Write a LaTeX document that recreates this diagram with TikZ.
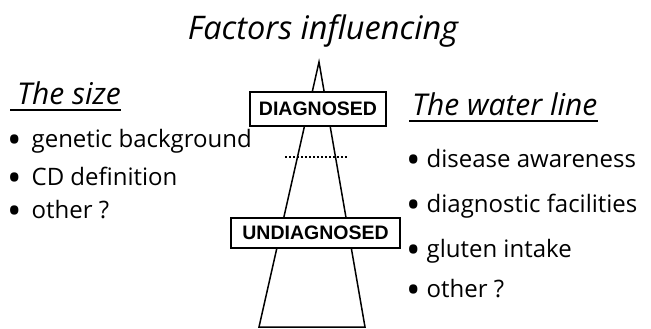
\documentclass[tikz,border=0pt]{standalone}
\usepackage{fontspec}
\setmainfont{Open Sans}
\newfontfamily\boxfont{Liberation Sans}
\newcommand\itemdot[1][6pt]{\smash{\raisebox{-6pt}{\scalebox{1.6}{\textbullet}}}\hspace{#1}}
\tikzset{
  titletext/.style={anchor=base, inner sep=0pt, font=\fontsize{32.5}{38}\selectfont\itshape},
  headtext/.style={anchor=base west, inner sep=0pt, font=\fontsize{30}{36}\selectfont\itshape},
  itemtext/.style={anchor=base west, inner sep=0pt, font=\fontsize{24}{28}\selectfont},
  levelbox/.style={draw, line width=1.6pt, fill=white, inner xsep=3pt,
    font=\boxfont\bfseries\fontsize{19.5}{22}\selectfont},
  edge/.style={line width=1.5pt},
  headline/.style={line width=1.4pt},
}
\begin{document}
\begin{tikzpicture}[x=1pt, y=-1pt]
  \useasboundingbox (0,0) rectangle (651,329);
  % pyramid
  \coordinate (apex) at (319,62);
  \coordinate (bl) at (259,327);
  \coordinate (br) at (365,327);
  \draw[edge] (apex) -- (bl) -- (br) -- cycle;
  \node[levelbox, minimum width=136pt, minimum height=34pt] (diag) at (318,109) {DIAGNOSED};
  \node[levelbox, minimum width=169pt, minimum height=30pt] (undiag) at (315.5,233) {UNDIAGNOSED};
  % water line
  \coordinate (wl) at (285,157);
  \coordinate (wr) at (347,157);
  \draw[dotted, line width=2pt] (wl) -- (wr);
  % headings
  \node[titletext] (title) at (323,40) {Factors influencing};
  \node[headtext] (sizehead) at (17,105) {The size};
  \node[headtext] (waterhead) at (412,115) {The water line};
  \draw[headline] ([xshift=-7pt,yshift=-5pt]sizehead.base west) -- ([yshift=-5pt]sizehead.base east);
  \draw[headline] ([xshift=-3pt,yshift=-6pt]waterhead.base west) -- ([yshift=-6pt]waterhead.base east);
  % the size
  \node[itemtext] (gen) at (7,147) {\itemdot[10pt]genetic background};
  \node[itemtext] (cdd) at (7,185) {\itemdot[10pt]CD definition};
  \node[itemtext] (oth1) at (7,218) {\itemdot[10pt]other ?};
  % the water line
  \node[itemtext] (aware) at (406,167) {\itemdot disease awareness};
  \node[itemtext] (facil) at (406,212) {\itemdot diagnostic facilities};
  \node[itemtext] (glut) at (406,257) {\itemdot gluten intake};
  \node[itemtext] (oth2) at (406,297) {\itemdot other ?};
\end{tikzpicture}
\end{document}
